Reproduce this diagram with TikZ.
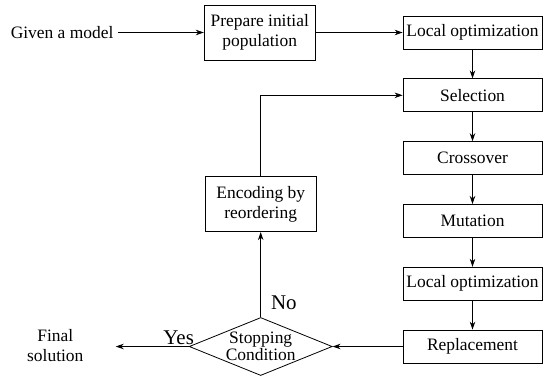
\documentclass[tikz,border=0pt]{standalone}
\usepackage{fontspec}
\setmainfont{Liberation Serif}
\usepackage{tikz}
\usetikzlibrary{arrows.meta,positioning,shapes.geometric}

\begin{document}
\begin{tikzpicture}[
        x=1bp, y=1bp,
        font=\fontsize{17.5}{20}\selectfont,
        line width=0.8bp,
        gastep/.style={draw, rectangle, align=center, inner sep=2pt, minimum width=139bp, minimum height=33bp},
        bigstep/.style={draw, rectangle, align=center, inner sep=2pt, minimum width=111bp, minimum height=55bp},
        decision/.style={draw, diamond, aspect=2.47, align=center, inner sep=0pt, minimum width=143bp, minimum height=58bp, font=\fontsize{17.5}{14.5}\selectfont},
        plain/.style={align=center, inner sep=4bp},
        answer/.style={font=\fontsize{21}{24}\selectfont, inner sep=1bp},
        >={Stealth[length=8bp,width=5.5bp]}
    ]
        \useasboundingbox (0,0) rectangle (551,-377);

        \node[gastep] (lopt1) at (472.5,-32.5) {Local optimization};
        \node[bigstep, left=87bp of lopt1] (prep) {Prepare initial\\population};
        \node[plain, left=86bp of prep] (given) {Given a model};
        \node[gastep, below=29bp of lopt1] (sel) {Selection};
        \node[gastep, below=29bp of sel] (cross) {Crossover};
        \node[gastep, below=29bp of cross] (mut) {Mutation};
        \node[gastep, below=29bp of mut] (lopt2) {Local optimization};
        \node[gastep, below=29bp of lopt2] (repl) {Replacement};
        \node[decision, left=70bp of repl] (stop) {Stopping\\Condition};
        \node[bigstep, above=85bp of stop] (enc) {Encoding by\\reordering};
        \node[plain, left=101bp of stop, yshift=1bp] (final) {Final\\solution};

        \draw[->] (given) -- (prep);
        \draw[->] (prep) -- (lopt1);
        \draw[->] (lopt1) -- (sel);
        \draw[->] (sel) -- (cross);
        \draw[->] (cross) -- (mut);
        \draw[->] (mut) -- (lopt2);
        \draw[->] (lopt2) -- (repl);
        \draw[->] (repl) -- (stop);
        \draw[->, shorten >=28bp] (stop.west) -- node[answer, above, pos=0.1] {Yes} (final.east |- stop.west);
        \draw[->] (stop) -- node[answer, right=9bp, pos=0.17] {No} (enc);
        \draw[->] (enc.north) |- (sel.west);
    \end{tikzpicture}
\end{document}
